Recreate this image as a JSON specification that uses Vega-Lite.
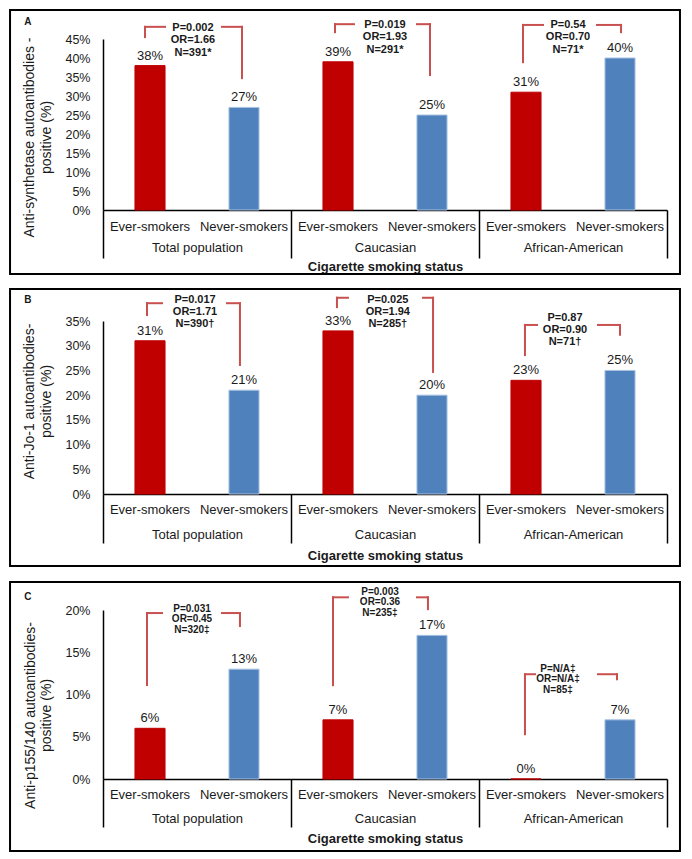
{
  "$schema": "https://vega.github.io/schema/vega-lite/v6.json",
  "padding": {"left": 9, "top": 9, "right": 5, "bottom": 5},
  "spacing": 13,
  "config": {
    "view": {"stroke": null},
    "font": "Liberation Sans"
  },
  "datasets": {
    "barsA": [
      {"group": "Total population", "smoking": "Ever-smokers", "bar": "Total population|Ever-smokers", "value": 0.38},
      {"group": "Total population", "smoking": "Never-smokers", "bar": "Total population|Never-smokers", "value": 0.27},
      {"group": "Caucasian", "smoking": "Ever-smokers", "bar": "Caucasian|Ever-smokers", "value": 0.39},
      {"group": "Caucasian", "smoking": "Never-smokers", "bar": "Caucasian|Never-smokers", "value": 0.25},
      {"group": "African-American", "smoking": "Ever-smokers", "bar": "African-American|Ever-smokers", "value": 0.31},
      {"group": "African-American", "smoking": "Never-smokers", "bar": "African-American|Never-smokers", "value": 0.40}
    ],
    "barsB": [
      {"group": "Total population", "smoking": "Ever-smokers", "bar": "Total population|Ever-smokers", "value": 0.31},
      {"group": "Total population", "smoking": "Never-smokers", "bar": "Total population|Never-smokers", "value": 0.21},
      {"group": "Caucasian", "smoking": "Ever-smokers", "bar": "Caucasian|Ever-smokers", "value": 0.33},
      {"group": "Caucasian", "smoking": "Never-smokers", "bar": "Caucasian|Never-smokers", "value": 0.20},
      {"group": "African-American", "smoking": "Ever-smokers", "bar": "African-American|Ever-smokers", "value": 0.23},
      {"group": "African-American", "smoking": "Never-smokers", "bar": "African-American|Never-smokers", "value": 0.25}
    ],
    "barsC": [
      {"group": "Total population", "smoking": "Ever-smokers", "bar": "Total population|Ever-smokers", "value": 0.06},
      {"group": "Total population", "smoking": "Never-smokers", "bar": "Total population|Never-smokers", "value": 0.13},
      {"group": "Caucasian", "smoking": "Ever-smokers", "bar": "Caucasian|Ever-smokers", "value": 0.07},
      {"group": "Caucasian", "smoking": "Never-smokers", "bar": "Caucasian|Never-smokers", "value": 0.17},
      {"group": "African-American", "smoking": "Ever-smokers", "bar": "African-American|Ever-smokers", "value": 0.0},
      {"group": "African-American", "smoking": "Never-smokers", "bar": "African-American|Never-smokers", "value": 0.07}
    ],
    "brA": [
      {"group": "Total population", "xL": 0.447, "xLh": 0.66, "xRh": 1.266, "xR": 1.479, "top": 0.482, "lb": 0.455, "rb": 0.347, "tx": 0.957, "ty": 0.495, "label": "P=0.002\nOR=1.66\nN=391*"},
      {"group": "Caucasian", "xL": 2.468, "xLh": 2.67, "xRh": 3.34, "xR": 3.479, "top": 0.489, "lb": 0.468, "rb": 0.355, "tx": 3.0, "ty": 0.503, "label": "P=0.019\nOR=1.93\nN=291*"},
      {"group": "African-American", "xL": 4.468, "xLh": 4.681, "xRh": 5.255, "xR": 5.511, "top": 0.487, "lb": 0.389, "rb": 0.468, "tx": 4.947, "ty": 0.503, "label": "P=0.54\nOR=0.70\nN=71*"}
    ],
    "brB": [
      {"group": "Total population", "xL": 0.468, "xLh": 0.628, "xRh": 1.319, "xR": 1.457, "top": 0.386, "lb": 0.362, "rb": 0.261, "tx": 0.979, "ty": 0.405, "label": "P=0.017\nOR=1.71\nN=390†"},
      {"group": "Caucasian", "xL": 2.489, "xLh": 2.606, "xRh": 3.404, "xR": 3.511, "top": 0.397, "lb": 0.378, "rb": 0.247, "tx": 3.03, "ty": 0.405, "label": "P=0.025\nOR=1.94\nN=285†"},
      {"group": "African-American", "xL": 4.489, "xLh": 4.617, "xRh": 5.266, "xR": 5.5, "top": 0.342, "lb": 0.281, "rb": 0.322, "tx": 4.915, "ty": 0.368, "label": "P=0.87\nOR=0.90\nN=71†"}
    ],
    "brC": [
      {"group": "Total population", "xL": 0.468, "xLh": 0.628, "xRh": 1.266, "xR": 1.457, "top": 0.1964, "lb": 0.1112, "rb": 0.181, "tx": 0.947, "ty": 0.2075, "label": "P=0.031\nOR=0.45\nN=320‡"},
      {"group": "Caucasian", "xL": 2.447, "xLh": 2.606, "xRh": 3.34, "xR": 3.457, "top": 0.215, "lb": 0.111, "rb": 0.201, "tx": 2.947, "ty": 0.2276, "label": "P=0.003\nOR=0.36\nN=235‡"},
      {"group": "African-American", "xL": 4.489, "xLh": 4.596, "xRh": 5.266, "xR": 5.468, "top": 0.124, "lb": 0.053, "rb": 0.118, "tx": 4.84, "ty": 0.1365, "label": "P=N/A‡\nOR=N/A‡\nN=85‡"}
    ]
  },
  "vconcat": [
    {
      "width": 564, "height": 171,
      "resolve": {"scale": {"x": "independent"}, "axis": {"x": "independent", "y": "independent"}},
      "layer": [
        {
          "data": {"name": "barsA"},
          "encoding": {
            "x": {"field": "bar", "type": "nominal", "sort": null, "scale": {"type": "band", "paddingInner": 0, "paddingOuter": 0},
              "axis": {"orient": "bottom", "title": null, "labelExpr": "split(datum.label, '|')[1]", "ticks": false, "labelPadding": 10, "labelAngle": 0, "domainColor": "black", "domainWidth": 1.5, "labelFontSize": 13, "labelColor": "#1a1a1a"}},
            "y": {"field": "value", "type": "quantitative", "scale": {"domain": [0, 0.45], "nice": false},
              "axis": {"orient": "left", "title": ["Anti-synthetase autoantibodies -", "positive (%)"], "values": [0, 0.05, 0.1, 0.15, 0.2, 0.25, 0.3, 0.35, 0.4, 0.45], "labelOverlap": false, "format": ".0%", "ticks": false, "grid": false, "domainColor": "black", "domainWidth": 1.5, "labelPadding": 13, "labelFontSize": 12.5, "labelColor": "#1a1a1a", "titleFontSize": 14, "titleFontWeight": "normal", "titleColor": "#1a1a1a", "titleLineHeight": 17, "titlePadding": 11, "titleY": 98}}
          },
          "layer": [
            {"mark": {"type": "bar", "width": {"band": 0.32}, "strokeWidth": 1},
             "encoding": {
               "color": {"field": "smoking", "type": "nominal", "scale": {"domain": ["Ever-smokers", "Never-smokers"], "range": ["#C00000", "#4F81BD"]}, "legend": null},
               "stroke": {"field": "smoking", "type": "nominal", "scale": {"domain": ["Ever-smokers", "Never-smokers"], "range": ["#C00000", "#A9C2E0"]}, "legend": null}}},
            {"mark": {"type": "text", "baseline": "alphabetic", "dy": -6, "fontSize": 13, "color": "#1a1a1a"},
             "encoding": {"text": {"field": "value", "type": "quantitative", "format": ".0%"}}}
          ]
        },
        {
          "data": {"name": "barsA"},
          "mark": {"type": "bar", "opacity": 0},
          "encoding": {
            "x": {"field": "group", "type": "nominal", "sort": null, "scale": {"type": "band", "paddingInner": 0, "paddingOuter": 0},
              "axis": {"orient": "bottom", "title": "Cigarette smoking status", "titleFontSize": 13, "titleFontWeight": "bold", "titleColor": "#1a1a1a", "titlePadding": 2, "domain": false, "tickBand": "extent", "tickSize": 48, "tickColor": "black", "tickWidth": 1.5, "labelPadding": -17, "labelAngle": 0, "labelFontSize": 13, "labelColor": "#1a1a1a", "grid": false}}
          }
        },
        {
          "data": {"name": "brA"},
          "layer": [
            {"mark": {"type": "rule", "color": "#C8504F", "strokeWidth": 2, "strokeCap": "square"},
             "encoding": {"x": {"field": "xL", "type": "quantitative", "scale": {"domain": [0, 6], "nice": false, "zero": false}, "axis": null},
               "y": {"field": "lb", "type": "quantitative", "scale": {"domain": [0, 0.45], "nice": false}, "axis": null}, "y2": {"field": "top"}}},
            {"mark": {"type": "rule", "color": "#C8504F", "strokeWidth": 2, "strokeCap": "square"},
             "encoding": {"x": {"field": "xL", "type": "quantitative", "scale": {"domain": [0, 6], "nice": false, "zero": false}, "axis": null}, "x2": {"field": "xLh"},
               "y": {"field": "top", "type": "quantitative", "scale": {"domain": [0, 0.45], "nice": false}, "axis": null}}},
            {"mark": {"type": "rule", "color": "#C8504F", "strokeWidth": 2, "strokeCap": "square"},
             "encoding": {"x": {"field": "xRh", "type": "quantitative", "scale": {"domain": [0, 6], "nice": false, "zero": false}, "axis": null}, "x2": {"field": "xR"},
               "y": {"field": "top", "type": "quantitative", "scale": {"domain": [0, 0.45], "nice": false}, "axis": null}}},
            {"mark": {"type": "rule", "color": "#C8504F", "strokeWidth": 2, "strokeCap": "square"},
             "encoding": {"x": {"field": "xR", "type": "quantitative", "scale": {"domain": [0, 6], "nice": false, "zero": false}, "axis": null},
               "y": {"field": "top", "type": "quantitative", "scale": {"domain": [0, 0.45], "nice": false}, "axis": null}, "y2": {"field": "rb"}}},
            {"mark": {"type": "text", "lineBreak": "\n", "baseline": "top", "fontSize": 11, "fontWeight": "bold", "lineHeight": 12.5, "color": "#1a1a1a"},
             "encoding": {"x": {"field": "tx", "type": "quantitative", "scale": {"domain": [0, 6], "nice": false, "zero": false}, "axis": null},
               "y": {"field": "ty", "type": "quantitative", "scale": {"domain": [0, 0.45], "nice": false}, "axis": null},
               "text": {"field": "label", "type": "nominal"}}},
            {"data": {"values": [{}]},
             "mark": {"type": "rect", "fillOpacity": 0, "stroke": "black", "strokeWidth": 2},
             "encoding": {"x": {"datum": -0.989, "type": "quantitative", "scale": {"domain": [0, 6], "nice": false, "zero": false}, "axis": null}, "x2": {"datum": 6.138},
               "y": {"datum": -0.1684, "type": "quantitative", "scale": {"domain": [0, 0.45], "nice": false}, "axis": null}, "y2": {"datum": 0.5263}}},
            {"data": {"values": [{}]},
             "mark": {"type": "text", "text": "A", "fontSize": 10, "fontWeight": "bold", "color": "#1a1a1a"},
             "encoding": {"x": {"datum": -0.80, "type": "quantitative", "scale": {"domain": [0, 6], "nice": false, "zero": false}, "axis": null},
               "y": {"datum": 0.495, "type": "quantitative", "scale": {"domain": [0, 0.45], "nice": false}, "axis": null}}}
          ]
        }
      ]
    },
    {
      "width": 564, "height": 173,
      "resolve": {"scale": {"x": "independent"}, "axis": {"x": "independent", "y": "independent"}},
      "layer": [
        {
          "data": {"name": "barsB"},
          "encoding": {
            "x": {"field": "bar", "type": "nominal", "sort": null, "scale": {"type": "band", "paddingInner": 0, "paddingOuter": 0},
              "axis": {"orient": "bottom", "title": null, "labelExpr": "split(datum.label, '|')[1]", "ticks": false, "labelPadding": 9, "labelAngle": 0, "domainColor": "black", "domainWidth": 1.5, "labelFontSize": 13, "labelColor": "#1a1a1a"}},
            "y": {"field": "value", "type": "quantitative", "scale": {"domain": [0, 0.35], "nice": false},
              "axis": {"orient": "left", "title": ["Anti-Jo-1 autoantibodies-", "positive (%)"], "values": [0, 0.05, 0.1, 0.15, 0.2, 0.25, 0.3, 0.35], "labelOverlap": false, "format": ".0%", "ticks": false, "grid": false, "domainColor": "black", "domainWidth": 1.5, "labelPadding": 13, "labelFontSize": 12.5, "labelColor": "#1a1a1a", "titleFontSize": 14, "titleFontWeight": "normal", "titleColor": "#1a1a1a", "titleLineHeight": 17, "titlePadding": 11, "titleY": 80}}
          },
          "layer": [
            {"mark": {"type": "bar", "width": {"band": 0.32}, "strokeWidth": 1},
             "encoding": {
               "color": {"field": "smoking", "type": "nominal", "scale": {"domain": ["Ever-smokers", "Never-smokers"], "range": ["#C00000", "#4F81BD"]}, "legend": null},
               "stroke": {"field": "smoking", "type": "nominal", "scale": {"domain": ["Ever-smokers", "Never-smokers"], "range": ["#C00000", "#A9C2E0"]}, "legend": null}}},
            {"mark": {"type": "text", "baseline": "alphabetic", "dy": -6, "fontSize": 13, "color": "#1a1a1a"},
             "encoding": {"text": {"field": "value", "type": "quantitative", "format": ".0%"}}}
          ]
        },
        {
          "data": {"name": "barsB"},
          "mark": {"type": "bar", "opacity": 0},
          "encoding": {
            "x": {"field": "group", "type": "nominal", "sort": null, "scale": {"type": "band", "paddingInner": 0, "paddingOuter": 0},
              "axis": {"orient": "bottom", "title": "Cigarette smoking status", "titleFontSize": 13, "titleFontWeight": "bold", "titleColor": "#1a1a1a", "titlePadding": 6, "domain": false, "tickBand": "extent", "tickSize": 49, "tickColor": "black", "tickWidth": 1.5, "labelPadding": -15, "labelAngle": 0, "labelFontSize": 13, "labelColor": "#1a1a1a", "grid": false}}
          }
        },
        {
          "data": {"name": "brB"},
          "layer": [
            {"mark": {"type": "rule", "color": "#C8504F", "strokeWidth": 2, "strokeCap": "square"},
             "encoding": {"x": {"field": "xL", "type": "quantitative", "scale": {"domain": [0, 6], "nice": false, "zero": false}, "axis": null},
               "y": {"field": "lb", "type": "quantitative", "scale": {"domain": [0, 0.35], "nice": false}, "axis": null}, "y2": {"field": "top"}}},
            {"mark": {"type": "rule", "color": "#C8504F", "strokeWidth": 2, "strokeCap": "square"},
             "encoding": {"x": {"field": "xL", "type": "quantitative", "scale": {"domain": [0, 6], "nice": false, "zero": false}, "axis": null}, "x2": {"field": "xLh"},
               "y": {"field": "top", "type": "quantitative", "scale": {"domain": [0, 0.35], "nice": false}, "axis": null}}},
            {"mark": {"type": "rule", "color": "#C8504F", "strokeWidth": 2, "strokeCap": "square"},
             "encoding": {"x": {"field": "xRh", "type": "quantitative", "scale": {"domain": [0, 6], "nice": false, "zero": false}, "axis": null}, "x2": {"field": "xR"},
               "y": {"field": "top", "type": "quantitative", "scale": {"domain": [0, 0.35], "nice": false}, "axis": null}}},
            {"mark": {"type": "rule", "color": "#C8504F", "strokeWidth": 2, "strokeCap": "square"},
             "encoding": {"x": {"field": "xR", "type": "quantitative", "scale": {"domain": [0, 6], "nice": false, "zero": false}, "axis": null},
               "y": {"field": "top", "type": "quantitative", "scale": {"domain": [0, 0.35], "nice": false}, "axis": null}, "y2": {"field": "rb"}}},
            {"mark": {"type": "text", "lineBreak": "\n", "baseline": "top", "fontSize": 11, "fontWeight": "bold", "lineHeight": 12, "color": "#1a1a1a"},
             "encoding": {"x": {"field": "tx", "type": "quantitative", "scale": {"domain": [0, 6], "nice": false, "zero": false}, "axis": null},
               "y": {"field": "ty", "type": "quantitative", "scale": {"domain": [0, 0.35], "nice": false}, "axis": null},
               "text": {"field": "label", "type": "nominal"}}},
            {"data": {"values": [{}]},
             "mark": {"type": "rect", "fillOpacity": 0, "stroke": "black", "strokeWidth": 2},
             "encoding": {"x": {"datum": -0.989, "type": "quantitative", "scale": {"domain": [0, 6], "nice": false, "zero": false}, "axis": null}, "x2": {"datum": 6.138},
               "y": {"datum": -0.1457, "type": "quantitative", "scale": {"domain": [0, 0.35], "nice": false}, "axis": null}, "y2": {"datum": 0.4147}}},
            {"data": {"values": [{}]},
             "mark": {"type": "text", "text": "B", "fontSize": 10, "fontWeight": "bold", "color": "#1a1a1a"},
             "encoding": {"x": {"datum": -0.80, "type": "quantitative", "scale": {"domain": [0, 6], "nice": false, "zero": false}, "axis": null},
               "y": {"datum": 0.392, "type": "quantitative", "scale": {"domain": [0, 0.35], "nice": false}, "axis": null}}}
          ]
        }
      ]
    },
    {
      "width": 564, "height": 169,
      "resolve": {"scale": {"x": "independent"}, "axis": {"x": "independent", "y": "independent"}},
      "layer": [
        {
          "data": {"name": "barsC"},
          "encoding": {
            "x": {"field": "bar", "type": "nominal", "sort": null, "scale": {"type": "band", "paddingInner": 0, "paddingOuter": 0},
              "axis": {"orient": "bottom", "title": null, "labelExpr": "split(datum.label, '|')[1]", "ticks": false, "labelPadding": 9, "labelAngle": 0, "domainColor": "black", "domainWidth": 1.5, "labelFontSize": 13, "labelColor": "#1a1a1a"}},
            "y": {"field": "value", "type": "quantitative", "scale": {"domain": [0, 0.2], "nice": false},
              "axis": {"orient": "left", "title": ["Anti-p155/140 autoantibodies-", "positive (%)"], "values": [0, 0.05, 0.1, 0.15, 0.2], "labelOverlap": false, "format": ".0%", "ticks": false, "grid": false, "domainColor": "black", "domainWidth": 1.5, "labelPadding": 13, "labelFontSize": 12.5, "labelColor": "#1a1a1a", "titleFontSize": 14, "titleFontWeight": "normal", "titleColor": "#1a1a1a", "titleLineHeight": 16, "titlePadding": 11, "titleY": 105}}
          },
          "layer": [
            {"mark": {"type": "bar", "width": {"band": 0.32}, "strokeWidth": 1},
             "encoding": {
               "color": {"field": "smoking", "type": "nominal", "scale": {"domain": ["Ever-smokers", "Never-smokers"], "range": ["#C00000", "#4F81BD"]}, "legend": null},
               "stroke": {"field": "smoking", "type": "nominal", "scale": {"domain": ["Ever-smokers", "Never-smokers"], "range": ["#C00000", "#A9C2E0"]}, "legend": null}}},
            {"mark": {"type": "text", "baseline": "alphabetic", "dy": -6, "fontSize": 13, "color": "#1a1a1a"},
             "encoding": {"text": {"field": "value", "type": "quantitative", "format": ".0%"}}}
          ]
        },
        {
          "data": {"name": "barsC"},
          "mark": {"type": "bar", "opacity": 0},
          "encoding": {
            "x": {"field": "group", "type": "nominal", "sort": null, "scale": {"type": "band", "paddingInner": 0, "paddingOuter": 0},
              "axis": {"orient": "bottom", "title": "Cigarette smoking status", "titleFontSize": 13, "titleFontWeight": "bold", "titleColor": "#1a1a1a", "titlePadding": 5, "domain": false, "tickBand": "extent", "tickSize": 48, "tickColor": "black", "tickWidth": 1.5, "labelPadding": -15, "labelAngle": 0, "labelFontSize": 13, "labelColor": "#1a1a1a", "grid": false}}
          }
        },
        {
          "data": {"name": "brC"},
          "layer": [
            {"mark": {"type": "rule", "color": "#C8504F", "strokeWidth": 2, "strokeCap": "square"},
             "encoding": {"x": {"field": "xL", "type": "quantitative", "scale": {"domain": [0, 6], "nice": false, "zero": false}, "axis": null},
               "y": {"field": "lb", "type": "quantitative", "scale": {"domain": [0, 0.2], "nice": false}, "axis": null}, "y2": {"field": "top"}}},
            {"mark": {"type": "rule", "color": "#C8504F", "strokeWidth": 2, "strokeCap": "square"},
             "encoding": {"x": {"field": "xL", "type": "quantitative", "scale": {"domain": [0, 6], "nice": false, "zero": false}, "axis": null}, "x2": {"field": "xLh"},
               "y": {"field": "top", "type": "quantitative", "scale": {"domain": [0, 0.2], "nice": false}, "axis": null}}},
            {"mark": {"type": "rule", "color": "#C8504F", "strokeWidth": 2, "strokeCap": "square"},
             "encoding": {"x": {"field": "xRh", "type": "quantitative", "scale": {"domain": [0, 6], "nice": false, "zero": false}, "axis": null}, "x2": {"field": "xR"},
               "y": {"field": "top", "type": "quantitative", "scale": {"domain": [0, 0.2], "nice": false}, "axis": null}}},
            {"mark": {"type": "rule", "color": "#C8504F", "strokeWidth": 2, "strokeCap": "square"},
             "encoding": {"x": {"field": "xR", "type": "quantitative", "scale": {"domain": [0, 6], "nice": false, "zero": false}, "axis": null},
               "y": {"field": "top", "type": "quantitative", "scale": {"domain": [0, 0.2], "nice": false}, "axis": null}, "y2": {"field": "rb"}}},
            {"mark": {"type": "text", "lineBreak": "\n", "baseline": "top", "fontSize": 10, "fontWeight": "bold", "lineHeight": 10.5, "color": "#1a1a1a"},
             "encoding": {"x": {"field": "tx", "type": "quantitative", "scale": {"domain": [0, 6], "nice": false, "zero": false}, "axis": null},
               "y": {"field": "ty", "type": "quantitative", "scale": {"domain": [0, 0.2], "nice": false}, "axis": null},
               "text": {"field": "label", "type": "nominal"}}},
            {"data": {"values": [{}]},
             "mark": {"type": "rect", "fillOpacity": 0, "stroke": "black", "strokeWidth": 2},
             "encoding": {"x": {"datum": -0.989, "type": "quantitative", "scale": {"domain": [0, 6], "nice": false, "zero": false}, "axis": null}, "x2": {"datum": 6.138},
               "y": {"datum": -0.0852, "type": "quantitative", "scale": {"domain": [0, 0.2], "nice": false}, "axis": null}, "y2": {"datum": 0.2331}}},
            {"data": {"values": [{}]},
             "mark": {"type": "text", "text": "C", "fontSize": 10, "fontWeight": "bold", "color": "#1a1a1a"},
             "encoding": {"x": {"datum": -0.80, "type": "quantitative", "scale": {"domain": [0, 6], "nice": false, "zero": false}, "axis": null},
               "y": {"datum": 0.215, "type": "quantitative", "scale": {"domain": [0, 0.2], "nice": false}, "axis": null}}}
          ]
        }
      ]
    }
  ]
}
